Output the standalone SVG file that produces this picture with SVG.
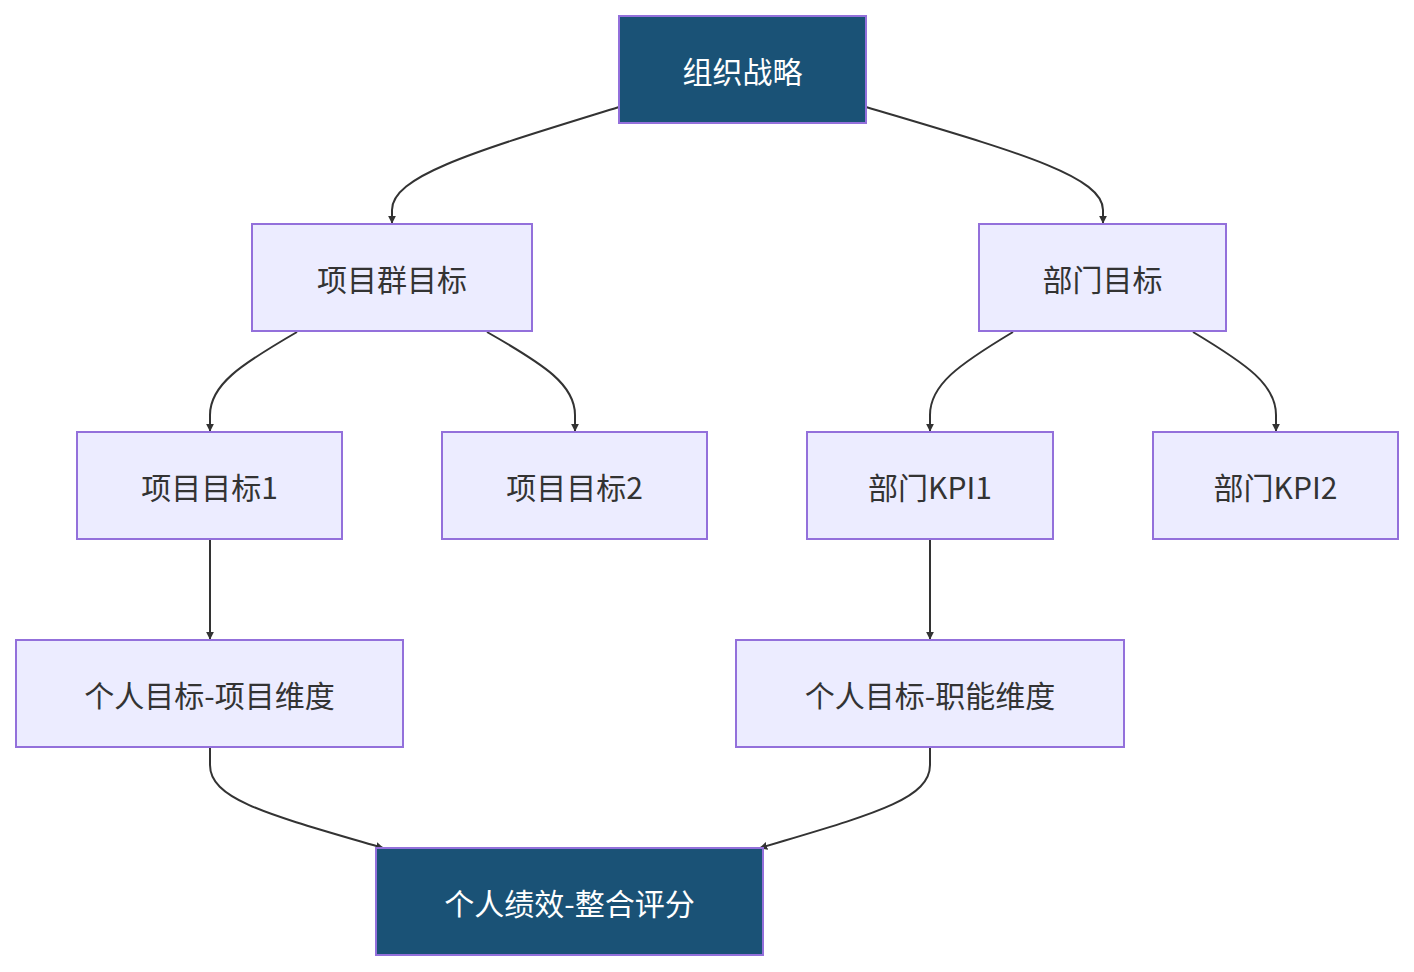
<svg xmlns="http://www.w3.org/2000/svg" width="1414" height="972" viewBox="0 0 1414 972">
<defs>
<marker id="ah" viewBox="0 0 10 10" refX="9" refY="5" markerWidth="8" markerHeight="8" markerUnits="userSpaceOnUse" orient="auto"><path d="M0,0L10,5L0,10z" fill="#333"/></marker>
<style>
.n{fill:#ECECFF;stroke:#9370DB;stroke-width:2}
.d{fill:#1a5276;stroke:#9370DB;stroke-width:2}
text{font-family:"Noto Sans CJK SC","Noto Sans",sans-serif;font-size:30px;text-anchor:middle;dominant-baseline:central;fill:#333}
.w{fill:#fff}
.e{fill:none;stroke:#333;stroke-width:2;marker-end:url(#ah)}
</style>
</defs>
<rect width="1414" height="972" fill="#fff"/>
<g id="edges">
<path class="e" d="M619,107 C480,150 392,175 392,210 L392,223"/>
<path class="e" d="M866,107 C1010,150 1103,175 1103,210 L1103,223"/>
<path class="e" d="M297,332 C240,365 210,385 210,415 L210,431"/>
<path class="e" d="M487,332 C545,365 575,385 575,415 L575,431"/>
<path class="e" d="M1013,332 C958,365 930,385 930,415 L930,431"/>
<path class="e" d="M1193,332 C1248,365 1276,385 1276,415 L1276,431"/>
<path class="e" d="M210,540 L210,639"/>
<path class="e" d="M930,540 L930,639"/>
<path class="e" d="M210,748 L210,765 C210,800 270,815 383,848"/>
<path class="e" d="M930,748 L930,765 C930,800 870,815 760,848"/>
</g>
<g id="n1"><rect class="d" x="619" y="16" width="247" height="107"/><text class="w" x="742.5" y="69.5">组织战略</text></g>
<g id="n2"><rect class="n" x="252" y="224" width="280" height="107"/><text x="392" y="277.5">项目群目标</text></g>
<g id="n3"><rect class="n" x="979" y="224" width="247" height="107"/><text x="1102.5" y="277.5">部门目标</text></g>
<g id="n4"><rect class="n" x="77" y="432" width="265" height="107"/><text x="209.5" y="485.5">项目目标1</text></g>
<g id="n5"><rect class="n" x="442" y="432" width="265" height="107"/><text x="574.5" y="485.5">项目目标2</text></g>
<g id="n6"><rect class="n" x="807" y="432" width="246" height="107"/><text x="930" y="485.5">部门KPI1</text></g>
<g id="n7"><rect class="n" x="1153" y="432" width="245" height="107"/><text x="1275.5" y="485.5">部门KPI2</text></g>
<g id="n8"><rect class="n" x="16" y="640" width="387" height="107"/><text x="209.5" y="693.5">个人目标-项目维度</text></g>
<g id="n9"><rect class="n" x="736" y="640" width="388" height="107"/><text x="930" y="693.5">个人目标-职能维度</text></g>
<g id="n10"><rect class="d" x="376" y="848" width="387" height="107"/><text class="w" x="569.5" y="901.5">个人绩效-整合评分</text></g>
</svg>
